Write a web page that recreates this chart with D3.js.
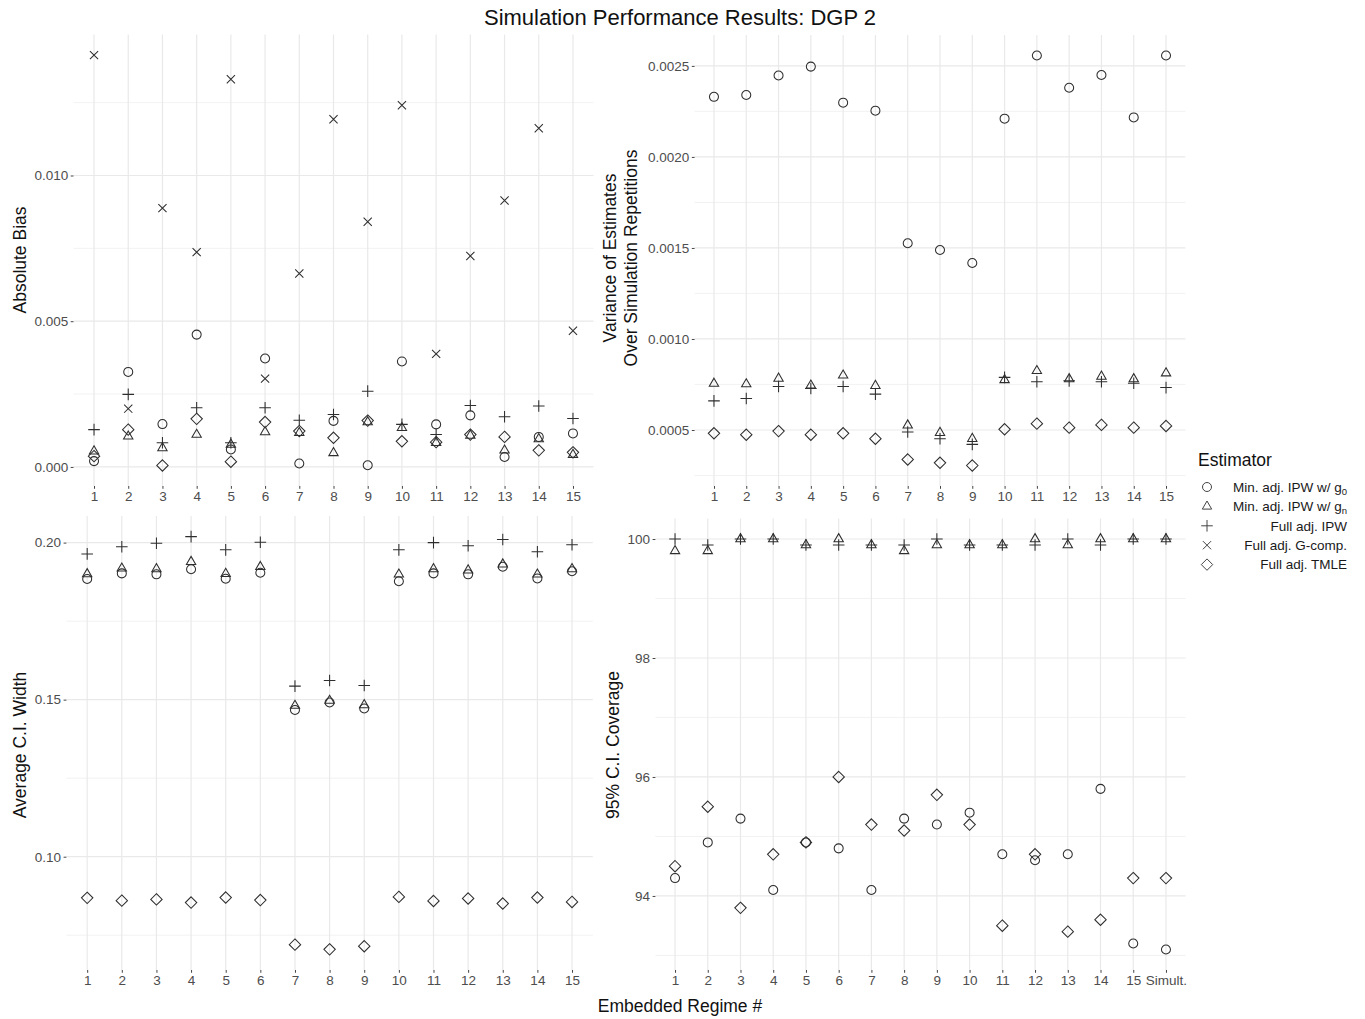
<!DOCTYPE html>
<html><head><meta charset="utf-8">
<script src="https://cdn.jsdelivr.net/npm/d3@7"></script>
<style>
body{margin:0;background:#fff;}
text{font-family:"Liberation Sans",Arial,Helvetica,sans-serif;}
</style>
</head><body>
<svg id="chart" width="1365" height="1019"></svg>
<script>
// ---------------- DATA ----------------
const regimes = ["1","2","3","4","5","6","7","8","9","10","11","12","13","14","15"];
const regimesCov = ["1","2","3","4","5","6","7","8","9","10","11","12","13","14","15","Simult."];
const estimatorKeys = ["g0","gn","ipw","gcomp","tmle"];
const estimatorLabels = ["Min. adj. IPW w/ g|0","Min. adj. IPW w/ g|n","Full adj. IPW","Full adj. G-comp.","Full adj. TMLE"];

// Absolute bias
const biasG0    = [0.00020,0.00326,0.00147,0.00454,0.00060,0.00372,0.00012,0.00158,0.00006,0.00362,0.00146,0.00177,0.00034,0.00103,0.00115];
const biasGn    = [0.00054,0.00105,0.00065,0.00111,0.00077,0.00120,0.00117,0.00048,0.00154,0.00134,0.00083,0.00108,0.00057,0.00096,0.00042];
const biasIPW   = [0.00128,0.00249,0.00083,0.00203,0.00083,0.00203,0.00160,0.00180,0.00260,0.00146,0.00111,0.00211,0.00172,0.00209,0.00166];
const biasGcomp = [0.01413,0.00200,0.00888,0.00737,0.01330,0.00303,0.00664,0.01193,0.00841,0.01241,0.00388,0.00724,0.00914,0.01162,0.00467];
const biasTMLE  = [0.00037,0.00128,0.00005,0.00165,0.00018,0.00154,0.00123,0.00100,0.00159,0.00088,0.00085,0.00111,0.00103,0.00057,0.00050];

// Variance of estimates
const varG0   = [0.002330,0.002340,0.002447,0.002496,0.002298,0.002254,0.001526,0.001489,0.001417,0.002210,0.002557,0.002380,0.002450,0.002217,0.002557];
const varGn   = [0.000755,0.000752,0.000783,0.000745,0.000800,0.000743,0.000526,0.000485,0.000452,0.000775,0.000825,0.000780,0.000794,0.000780,0.000812];
const varIPW  = [0.000660,0.000673,0.000739,0.000728,0.000739,0.000697,0.000489,0.000452,0.000421,0.000789,0.000765,0.000770,0.000765,0.000757,0.000733];
const varTMLE = [0.000482,0.000474,0.000494,0.000474,0.000482,0.000452,0.000338,0.000320,0.000305,0.000504,0.000535,0.000513,0.000528,0.000513,0.000522];

// Average C.I. width
const widthG0   = [0.1884,0.1902,0.1899,0.1915,0.1885,0.1904,0.1467,0.1491,0.1472,0.1877,0.1902,0.1899,0.1923,0.1886,0.1909];
const widthGn   = [0.1900,0.1918,0.1916,0.1939,0.1901,0.1923,0.1481,0.1497,0.1483,0.1899,0.1916,0.1912,0.1931,0.1899,0.1916];
const widthIPW  = [0.1964,0.1987,0.1998,0.2019,0.1977,0.2001,0.1543,0.1561,0.1545,0.1977,0.2000,0.1990,0.2010,0.1971,0.1993];
const widthTMLE = [0.0869,0.0860,0.0864,0.0854,0.0870,0.0862,0.0720,0.0705,0.0715,0.0872,0.0859,0.0867,0.0851,0.0870,0.0856];

// 95% C.I. coverage
const covG0   = [94.3,94.9,95.3,94.1,94.9,94.8,94.1,95.3,95.2,95.4,94.7,94.6,94.7,95.8,93.2,93.1];
const covGn   = [99.8,99.8,100.0,100.0,99.9,100.0,99.9,99.8,99.9,99.9,99.9,100.0,99.9,100.0,100.0,100.0];
const covIPW  = [100.0,99.9,100.0,100.0,99.9,99.9,99.9,99.9,100.0,99.9,99.9,99.9,100.0,99.9,100.0,100.0];
const covTMLE = [94.5,95.5,93.8,94.7,94.9,96.0,95.2,95.1,95.7,95.2,93.5,94.7,93.4,93.6,94.3,94.3];

const biasTicks = [0, 0.005, 0.010];
const varTicks = [0.0005, 0.0010, 0.0015, 0.0020, 0.0025];
const widthTicks = [0.10, 0.15, 0.20];
const covTicks = [94, 96, 98, 100];

// ---------------- SYMBOLS ----------------
const symbolTypes = {
  g0:   {draw(c){ const r=4.5; c.moveTo(r,0); c.arc(0,0,r,0,2*Math.PI); c.closePath(); }},
  gn:   {draw(c){ const R=5.4; c.moveTo(0,-R); c.lineTo(R*0.866,R*0.5); c.lineTo(-R*0.866,R*0.5); c.closePath(); }},
  ipw:  {draw(c){ const a=5.8; c.moveTo(-a,0); c.lineTo(a,0); c.moveTo(0,-a); c.lineTo(0,a); }},
  gcomp:{draw(c){ const a=4.1; c.moveTo(-a,-a); c.lineTo(a,a); c.moveTo(-a,a); c.lineTo(a,-a); }},
  tmle: {draw(c){ const a=5.7; c.moveTo(0,-a); c.lineTo(a,0); c.lineTo(0,a); c.lineTo(-a,0); c.closePath(); }}
};
const markColor = "#2e2e2e";
const FONT = '"Liberation Sans",Arial,sans-serif';

const svg = d3.select("#chart");

// Title
svg.append("text").attr("x", 680).attr("y", 25).attr("text-anchor","middle")
  .attr("font-size", 22).attr("fill","#111").text("Simulation Performance Results: DGP 2");

function expandDomain(arrs){
  const all = arrs.flat();
  const mn = d3.min(all), mx = d3.max(all), r = mx - mn;
  return [mn - 0.05*r, mx + 0.05*r];
}

function panel(cfg){
  const g = svg.append("g");
  const x = d3.scalePoint().domain(cfg.cats).range([cfg.left, cfg.right]).padding(0.6);
  const y = d3.scaleLinear().domain(expandDomain(cfg.series.map(s=>s.values))).range([cfg.bottom, cfg.top]);
  const step = cfg.ticks[1]-cfg.ticks[0];
  const minor = [];
  const [d0,d1] = y.domain();
  for (let k=-2; k<cfg.ticks.length+2; k++){
    const v = cfg.ticks[0] + (k-0.5)*step;
    if (v>d0 && v<d1) minor.push(v);
  }
  g.selectAll(".minor").data(minor).join("line")
    .attr("x1", cfg.left).attr("x2", cfg.right)
    .attr("y1", d=>y(d)).attr("y2", d=>y(d))
    .attr("stroke","#f0f0f0").attr("stroke-width",0.9);
  g.selectAll(".major").data(cfg.ticks).join("line")
    .attr("x1", cfg.left).attr("x2", cfg.right)
    .attr("y1", d=>y(d)).attr("y2", d=>y(d))
    .attr("stroke","#e9e9e9").attr("stroke-width",1.2);
  g.selectAll(".vgrid").data(cfg.cats).join("line")
    .attr("x1", d=>x(d)).attr("x2", d=>x(d))
    .attr("y1", cfg.top).attr("y2", cfg.bottom)
    .attr("stroke","#e9e9e9").attr("stroke-width",1.2);

  const yAxis = d3.axisLeft(y).tickValues(cfg.ticks).tickFormat(d3.format(cfg.fmt)).tickSize(2.8).tickPadding(2.5);
  const ya = g.append("g").attr("transform",`translate(${cfg.left},0)`).call(yAxis);
  ya.select(".domain").remove();
  ya.selectAll("line").attr("stroke","#444");
  ya.selectAll("text").attr("font-size",13.5).attr("fill","#4d4d4d").attr("font-family",FONT);
  const xAxis = d3.axisBottom(x).tickSize(2.8).tickPadding(3);
  const xa = g.append("g").attr("transform",`translate(0,${cfg.bottom})`).call(xAxis);
  xa.select(".domain").remove();
  xa.selectAll("line").attr("stroke","#444");
  xa.selectAll("text").attr("font-size",13.5).attr("fill","#4d4d4d").attr("font-family",FONT);

  cfg.series.forEach(s=>{
    const sym = d3.symbol().type(symbolTypes[s.key]);
    g.append("g").selectAll("path").data(s.values).join("path")
      .attr("transform",(d,i)=>`translate(${x(cfg.cats[i])},${y(d)})`)
      .attr("d", sym())
      .attr("fill","none").attr("stroke",markColor).attr("stroke-width",1.05);
  });

  const yt = g.append("text").attr("transform",`translate(${cfg.titleX},${cfg.titleY}) rotate(-90)`)
    .attr("text-anchor","middle").attr("font-size",17.5).attr("fill","#111");
  cfg.title.forEach((t,i)=>{
    yt.append("tspan").attr("x",0).attr("dy", i===0 ? (-(cfg.title.length-1)*10.5)+"px" : "21px").text(t);
  });
}

panel({cats: regimes, left:73.5, right:593.5, top:34.6, bottom:486, ticks: biasTicks, fmt:".3f",
  title:["Absolute Bias"], titleX: 26, titleY: 260,
  series:[{key:"g0",values:biasG0},{key:"gn",values:biasGn},{key:"ipw",values:biasIPW},{key:"gcomp",values:biasGcomp},{key:"tmle",values:biasTMLE}]});

panel({cats: regimes, left:694.6, right:1185.4, top:35, bottom:486, ticks: varTicks, fmt:".4f",
  title:["Variance of Estimates","Over Simulation Repetitions"], titleX: 626, titleY: 258,
  series:[{key:"g0",values:varG0},{key:"gn",values:varGn},{key:"ipw",values:varIPW},{key:"tmle",values:varTMLE}]});

panel({cats: regimes, left:66.4, right:592.8, top:516, bottom:970, ticks: widthTicks, fmt:".2f",
  title:["Average C.I. Width"], titleX: 26, titleY: 745,
  series:[{key:"g0",values:widthG0},{key:"gn",values:widthGn},{key:"ipw",values:widthIPW},{key:"tmle",values:widthTMLE}]});

panel({cats: regimesCov, left:655.4, right:1185.6, top:518.5, bottom:970, ticks: covTicks, fmt:"d",
  title:["95% C.I. Coverage"], titleX: 619, titleY: 745,
  series:[{key:"g0",values:covG0},{key:"gn",values:covGn},{key:"ipw",values:covIPW},{key:"tmle",values:covTMLE}]});

svg.append("text").attr("x", 680).attr("y", 1012).attr("text-anchor","middle")
  .attr("font-size",17.5).attr("fill","#111").text("Embedded Regime #");

// legend
const lg = svg.append("g");
lg.append("text").attr("x",1198).attr("y",466).attr("font-size",17.5).attr("fill","#111").text("Estimator");
estimatorKeys.forEach((k,i)=>{
  const yy = 487 + i*19.4;
  lg.append("path").attr("transform",`translate(1207,${yy})`)
    .attr("d", d3.symbol().type(symbolTypes[k])())
    .attr("fill","none").attr("stroke","#444").attr("stroke-width",1);
  const parts = estimatorLabels[i].split("|");
  const t = lg.append("text").attr("x",1347).attr("y",yy+4.8).attr("text-anchor","end")
    .attr("font-size",13.5).attr("fill","#1a1a1a");
  t.append("tspan").text(parts[0]);
  if (parts[1]) t.append("tspan").attr("font-size",9.5).attr("dy",3).text(parts[1]);
});
</script>
</body></html>
